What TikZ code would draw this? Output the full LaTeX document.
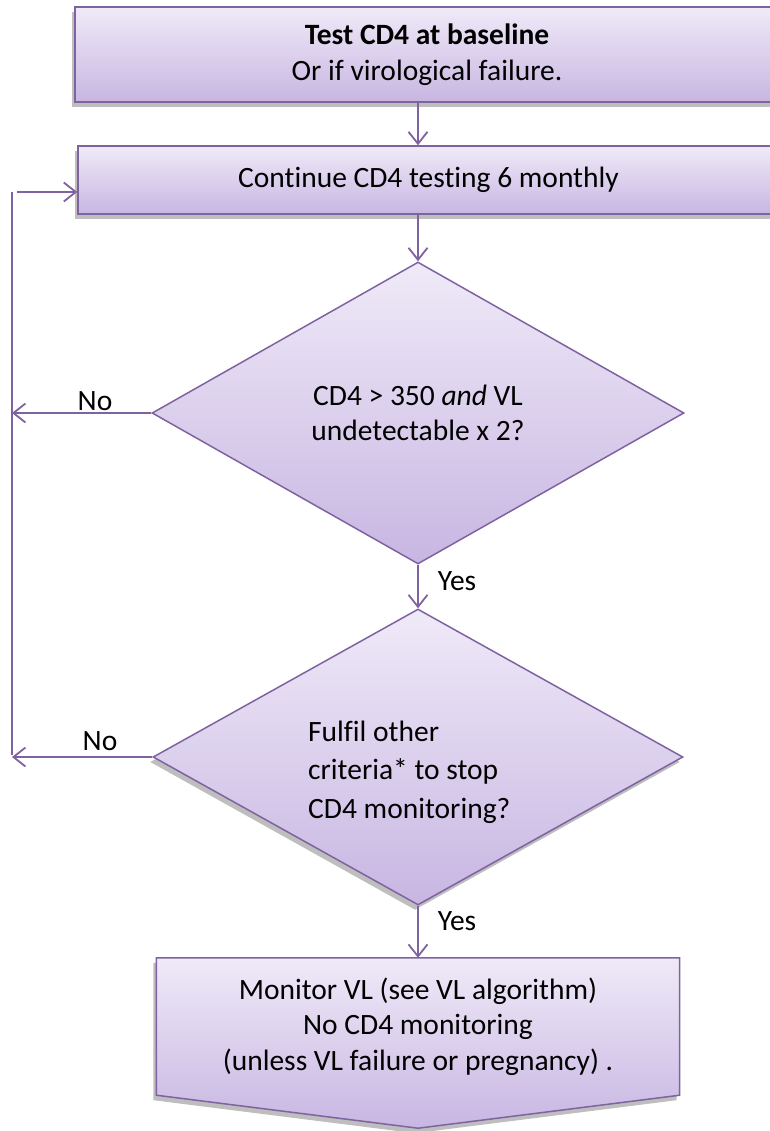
\documentclass[tikz,border=0pt]{standalone}
\usepackage{fontspec}
\setmainfont{Carlito}[Ligatures=NoCommon]
\usetikzlibrary{arrows.meta,shapes.geometric,calc,shadows,backgrounds}
\definecolor{edge}{HTML}{7F63A1}
\definecolor{filltop}{HTML}{EFEAF8}
\definecolor{fillbot}{HTML}{C8B6E2}
\definecolor{shade}{HTML}{BEBEBE}

\begin{document}
\begin{tikzpicture}[x=1pt,y=-1pt,
  every node/.style={font=\fontsize{29.5}{35.5}\selectfont, inner sep=0pt},
  panel/.style={draw=edge, line width=1.5pt, top color=filltop, bottom color=fillbot},
  softshadow/.style={drop shadow={shadow xshift=-3pt, shadow yshift=-5pt, fill=shade, opacity=1}},
  flow/.style={draw=edge, line width=1.8pt,
    -{Straight Barb[length=12pt,width=19pt,line width=1.8pt]}},
  loopline/.style={draw=edge, line width=1.8pt}
]
\useasboundingbox (0,0) rectangle (770,1131);

% process boxes (they run past the right margin)
\node[panel, softshadow, minimum width=704pt, minimum height=95pt, align=center]
  (base) at (427,54.5) {\textbf{Test CD4 at baseline}\\Or if virological failure.};
\node[panel, softshadow, minimum width=701pt, minimum height=68pt]
  (cont) at (428.5,180) {Continue CD4 testing 6 monthly};

% decisions
\node[panel, diamond, minimum width=532pt, minimum height=302pt, align=center]
  (d1) at (418,413) {CD4 > 350 \textit{and} VL\\undetectable x 2?};
\node[panel, diamond, softshadow, minimum width=530pt, minimum height=296pt]
  (d2) at (418,757) {};
\node[align=left, anchor=west, font=\fontsize{29.5}{38.5}\selectfont]
  (d2text) at (308,772) {Fulfil other\\criteria* to stop\\CD4 monitoring?};

% final step: off-page connector shape
\node[minimum width=523pt, minimum height=137pt, align=center]
  (vl) at (418,1026.5) {Monitor VL (see VL algorithm)\\No CD4 monitoring\\(unless VL failure or pregnancy) .};
\begin{scope}[on background layer]
  \path[panel, softshadow] (vl.north west) -- (vl.north east) -- (vl.south east)
    -- ($(vl.south)+(0,33)$) -- (vl.south west) -- cycle;
\end{scope}

% main flow
\draw[flow] (base.south -| d1.north) -- (cont.north -| d1.north);
\draw[flow] (cont.south -| d1.north) -- (d1.north);
\draw[flow] (d1.south) -- (d2.north);
\draw[flow] (d2.south) -- (vl.north);

% loop back on "No"
\coordinate (ltop) at (12,192);
\coordinate (lbot) at (12,755);
\draw[loopline] (lbot) -- (ltop);
\draw[flow] ($(ltop)+(5,0)$) -- (ltop -| cont.west);
\draw[flow] (d1.west) -- (d1.west -| ltop);
\draw[flow] (d2.west) -- (d2.west -| ltop);

% branch labels
\node (no1) at (95,401) {No};
\node (no2) at (100,741) {No};
\node (yes1) at (457,581) {Yes};
\node (yes2) at (457,921) {Yes};
\end{tikzpicture}
\end{document}
